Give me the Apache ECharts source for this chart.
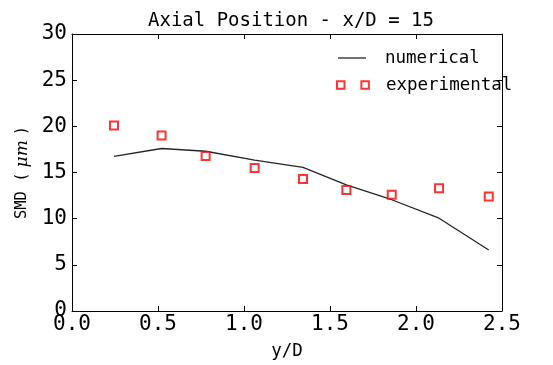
<!DOCTYPE html>
<html>
<head>
<meta charset="utf-8">
<script src="https://cdn.jsdelivr.net/npm/echarts@6/dist/echarts.min.js"></script>
<style>
  html, body { margin: 0; padding: 0; background: #fff; }
  #chart { width: 553px; height: 365px; }
</style>
</head>
<body>
<div id="chart"></div>
<script>
// Radial stations y/D and Sauter mean diameter (µm) at x/D = 15
const yOverD = [0.244, 0.521, 0.777, 1.062, 1.343, 1.595, 1.859, 2.134, 2.423];
const smdNumerical = [16.75, 17.6, 17.3, 16.35, 15.55, 13.65, 12.05, 10.05, 6.6];
const smdExperimental = [20.1, 19.0, 16.8, 15.5, 14.3, 13.1, 12.6, 13.3, 12.4];
const xTicks = { min: 0, max: 2.5, step: 0.5 };
const yTicks = { min: 0, max: 30, step: 5 };

const mono = 'DejaVu Sans Mono';
const pairs = (xs, ys) => xs.map((x, i) => [x, ys[i]]);

const chart = echarts.init(document.getElementById('chart'), null, { renderer: 'canvas' });

const tickStyle = { show: true, inside: true, length: 5, lineStyle: { color: '#000', width: 1 } };
const spine = { show: true, onZero: false, lineStyle: { color: '#000', width: 1 } };

chart.setOption({
  animation: false,
  backgroundColor: '#fff',
  title: {
    text: 'Axial Position - x/D = 15',
    left: 143,
    top: 7,
    textStyle: { fontFamily: mono, fontSize: 19, fontWeight: 'normal', color: '#000' }
  },
  legend: [
    {
      // plain line key drawn as a thin bar
      data: [{ name: 'numerical', icon: 'path://M0,0H28V1.3H0Z',
               itemStyle: { color: '#262626', borderWidth: 0 } }],
      left: 338, top: 49,
      padding: 0,
      itemWidth: 28, itemHeight: 1.3,
      textStyle: { fontFamily: mono, fontSize: 17.5, color: '#000', padding: [0, 0, 0, 14] }
    },
    {
      data: [{
        name: 'experimental',
        icon: 'path://M0,0H8V8H0Z M26,0H34V8H26Z',
        itemStyle: { color: '#fff', borderColor: '#ff0000', borderWidth: 2 }
      }],
      left: 336, top: 76,
      padding: 0,
      itemWidth: 32, itemHeight: 7.5,
      textStyle: { fontFamily: mono, fontSize: 17.5, color: '#000', padding: [0, 0, 0, 12] }
    }
  ],
  grid: { left: 72, right: 51, top: 34, bottom: 51, containLabel: false },
  xAxis: [
    {
      type: 'value', min: xTicks.min, max: xTicks.max, interval: xTicks.step,
      name: 'y/D', nameLocation: 'middle', nameGap: 31,
      nameTextStyle: { fontFamily: mono, fontSize: 17.5, color: '#000' },
      axisLine: spine, axisTick: tickStyle, splitLine: { show: false },
      axisLabel: { fontFamily: mono, fontSize: 21, color: '#000', margin: 3,
        formatter: v => v.toFixed(1) }
    },
    {
      type: 'value', position: 'top', min: xTicks.min, max: xTicks.max, interval: xTicks.step,
      axisLine: spine, axisTick: tickStyle, splitLine: { show: false }, axisLabel: { show: false }
    }
  ],
  yAxis: [
    {
      type: 'value', min: yTicks.min, max: yTicks.max, interval: yTicks.step,
      name: '{a|SMD (}{b|μm}{a|)}', nameLocation: 'middle', nameGap: 41, nameRotate: 90,
      nameTextStyle: {
        rich: {
          a: { fontFamily: mono, fontSize: 15.5, color: '#000' },
          b: { fontFamily: 'DejaVu Serif', fontStyle: 'italic', fontSize: 17, color: '#000', padding: [0, 5, 0, 5] }
        }
      },
      axisLine: spine, axisTick: tickStyle, splitLine: { show: false },
      axisLabel: { fontFamily: mono, fontSize: 21, color: '#000', margin: 5 }
    },
    {
      type: 'value', position: 'right', min: yTicks.min, max: yTicks.max, interval: yTicks.step,
      axisLine: spine, axisTick: tickStyle, splitLine: { show: false }, axisLabel: { show: false }
    }
  ],
  series: [
    {
      name: 'numerical',
      type: 'line',
      data: pairs(yOverD, smdNumerical),
      symbol: 'none',
      lineStyle: { color: '#262626', width: 1.3 },
      itemStyle: { color: '#262626' },
      z: 2
    },
    {
      name: 'experimental',
      type: 'scatter',
      data: pairs(yOverD, smdExperimental),
      symbol: 'rect',
      symbolSize: 8,
      itemStyle: { color: '#fff', borderColor: '#ff0000', borderWidth: 2 },
      z: 3
    }
  ]
});
</script>
</body>
</html>
